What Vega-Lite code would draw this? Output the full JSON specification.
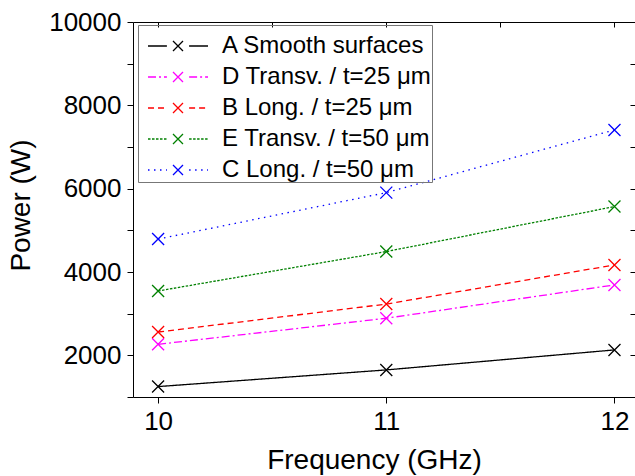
{
  "$schema": "https://vega.github.io/schema/vega-lite/v6.json",
  "width": 502,
  "height": 375,
  "autosize": "none",
  "padding": {"left": 133, "top": 22, "right": 0, "bottom": 79},
  "background": "white",
  "config": {
    "view": {"stroke": null},
    "font": "Liberation Sans",
    "axis": {"grid": false, "labelColor": "black", "tickColor": "black", "domainColor": "black", "titleColor": "black", "titleFontWeight": "normal", "labelOverlap": false, "labelFlush": false}
  },
  "data": {
    "values": [
      {"series": "A Smooth surfaces", "freq": 10, "power": 1250},
      {"series": "A Smooth surfaces", "freq": 11, "power": 1650},
      {"series": "A Smooth surfaces", "freq": 12, "power": 2130},
      {"series": "D Transv. / t=25 μm", "freq": 10, "power": 2265},
      {"series": "D Transv. / t=25 μm", "freq": 11, "power": 2890},
      {"series": "D Transv. / t=25 μm", "freq": 12, "power": 3690},
      {"series": "B Long. / t=25 μm", "freq": 10, "power": 2560},
      {"series": "B Long. / t=25 μm", "freq": 11, "power": 3230},
      {"series": "B Long. / t=25 μm", "freq": 12, "power": 4170},
      {"series": "E Transv. / t=50 μm", "freq": 10, "power": 3545},
      {"series": "E Transv. / t=50 μm", "freq": 11, "power": 4490},
      {"series": "E Transv. / t=50 μm", "freq": 12, "power": 5570},
      {"series": "C Long. / t=50 μm", "freq": 10, "power": 4790},
      {"series": "C Long. / t=50 μm", "freq": 11, "power": 5905},
      {"series": "C Long. / t=50 μm", "freq": 12, "power": 7410}
    ]
  },
  "layer": [
    {
      "mark": {"type": "line", "strokeWidth": 1.3},
      "encoding": {
        "x": {"field": "freq", "type": "quantitative", "scale": {"domain": [9.89, 12.09], "nice": false, "zero": false},
          "axis": {"orient": "bottom", "values": [10, 10.5, 11, 11.5, 12], "format": "d", "labelExpr": "datum.value % 1 == 0 ? datum.label : ''", "tickSize": 6, "labelFontSize": 26, "labelPadding": 5, "title": "Frequency (GHz)", "titleFontSize": 28, "titlePadding": 12, "titleX": 241}},
        "y": {"field": "power", "type": "quantitative", "scale": {"domain": [1000, 10000], "nice": false, "zero": false},
          "axis": {"orient": "left", "values": [1000, 2000, 3000, 4000, 5000, 6000, 7000, 8000, 9000, 10000], "format": "d", "labelExpr": "datum.value % 2000 == 0 ? datum.label : ''", "tickSize": 6, "labelFontSize": 26, "labelPadding": 6, "title": "Power (W)", "titleFontSize": 28, "titlePadding": 13, "titleY": 183}},
        "color": {"field": "series", "type": "nominal", "sort": null,
          "scale": {"range": ["#000000", "#ff00ff", "#ff0000", "#008000", "#0000ff"]},
          "legend": {"orient": "none", "legendX": 5, "legendY": 3, "title": " ", "titleFontSize": 6, "titlePadding": 5, "padding": 0, "strokeColor": "#777777", "symbolType": "M-1,0H-0.37M0.37,0H1", "symbolSize": 3600, "symbolStrokeWidth": 1.3, "clipHeight": 20, "rowPadding": 7, "symbolOffset": 9, "labelOffset": 13, "labelFontSize": 24, "labelColor": "black", "labelLimit": 400, "labelExpr": "datum.label + ' '"}},
        "strokeDash": {"field": "series", "type": "nominal", "sort": null,
          "scale": {"range": [[1, 0], [8, 3, 2, 3], [6, 4], [2.5, 1.5], [1.5, 4.5]]},
          "legend": {"orient": "none", "legendX": 5, "legendY": 3, "title": " ", "titleFontSize": 6, "titlePadding": 5, "padding": 0, "strokeColor": "#777777", "symbolType": "M-1,0H-0.37M0.37,0H1", "symbolSize": 3600, "symbolStrokeWidth": 1.3, "clipHeight": 20, "rowPadding": 7, "symbolOffset": 9, "labelOffset": 13, "labelFontSize": 24, "labelColor": "black", "labelLimit": 400, "labelExpr": "datum.label + ' '"}}
      }
    },
    {
      "mark": {"type": "point", "filled": false, "size": 144, "strokeWidth": 1.3, "opacity": 1},
      "encoding": {
        "x": {"field": "freq", "type": "quantitative", "scale": {"domain": [9.89, 12.09], "nice": false, "zero": false},
          "axis": {"orient": "top", "values": [10, 10.5, 11, 11.5, 12], "labels": false, "tickSize": -5, "title": null}},
        "y": {"field": "power", "type": "quantitative", "scale": {"domain": [1000, 10000], "nice": false, "zero": false},
          "axis": {"orient": "right", "values": [1000, 2000, 3000, 4000, 5000, 6000, 7000, 8000, 9000, 10000], "labels": false, "tickSize": -5, "domain": false, "title": null}},
        "stroke": {"field": "series", "type": "nominal",
          "scale": {"domain": ["A Smooth surfaces", "D Transv. / t=25 μm", "B Long. / t=25 μm", "E Transv. / t=50 μm", "C Long. / t=50 μm"], "range": ["#000000", "#ff00ff", "#ff0000", "#008000", "#0000ff"]},
          "legend": {"orient": "none", "legendX": 5, "legendY": 3, "title": " ", "titleFontSize": 6, "titlePadding": 5, "padding": 0, "symbolSize": 100, "symbolStrokeWidth": 1.3, "clipHeight": 20, "rowPadding": 7, "symbolOffset": 28, "labelFontSize": 24, "labelExpr": "''"}},
        "shape": {"field": "series", "type": "nominal",
          "scale": {"domain": ["A Smooth surfaces", "D Transv. / t=25 μm", "B Long. / t=25 μm", "E Transv. / t=50 μm", "C Long. / t=50 μm"], "range": ["M-1,-1L1,1M-1,1L1,-1", "M-1,-1L1,1M-1,1L1,-1", "M-1,-1L1,1M-1,1L1,-1", "M-1,-1L1,1M-1,1L1,-1", "M-1,-1L1,1M-1,1L1,-1"]},
          "legend": {"orient": "none", "legendX": 5, "legendY": 3, "title": " ", "titleFontSize": 6, "titlePadding": 5, "padding": 0, "symbolSize": 100, "symbolStrokeWidth": 1.3, "clipHeight": 20, "rowPadding": 7, "symbolOffset": 28, "labelFontSize": 24, "labelExpr": "''"}}
      }
    }
  ],
  "resolve": {"axis": {"x": "independent", "y": "independent"}}
}
